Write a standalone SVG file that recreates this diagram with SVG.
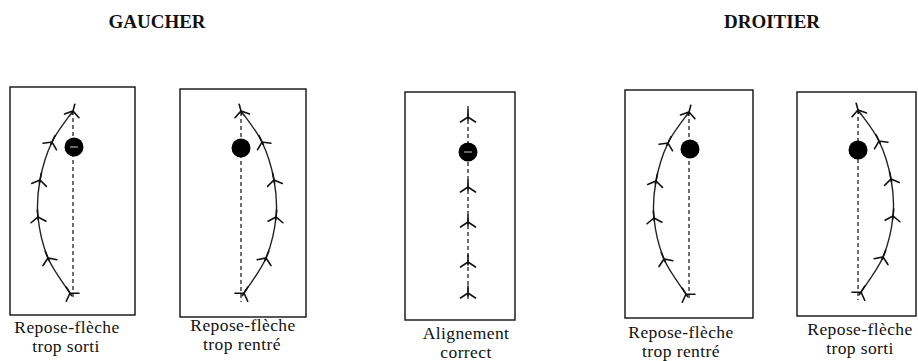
<svg xmlns="http://www.w3.org/2000/svg" xmlns:xlink="http://www.w3.org/1999/xlink" width="918" height="361" viewBox="0 0 918 361">
<style>
.box{fill:#fff;stroke:#111;stroke-width:1.4}
.axis{fill:none;stroke:#222;stroke-width:1.3;stroke-dasharray:4 3}
.bowline{fill:none;stroke:#222;stroke-width:1.4}
.fl{fill:none;stroke:#111;stroke-width:1.6;stroke-linecap:round}
.ball{fill:#000}
.nick{stroke:#fff;stroke-width:0.8}
.lbl{font-family:"Liberation Serif","Times New Roman",serif;font-size:17.5px;letter-spacing:0.4px;fill:#111;text-anchor:middle}
.ttl{font-family:"Liberation Serif","Times New Roman",serif;font-size:19px;font-weight:bold;fill:#111;text-anchor:middle}
</style>
<defs>
<path id="fl" class="fl" d="M0,-7 L0,3 M-7.5,5 L0,0 L7.5,5"/>
<g id="bow">
<path class="bowline" d="M0,0 C-3.5,5.2 -15.5,19.5 -21,31 C-26.5,42.5 -30.7,56.5 -33,69 C-35.3,81.5 -36.3,93 -35,106 C-33.7,119 -30.3,134.3 -25,147 C-19.7,159.7 -6.7,176.2 -3,182"/>
<use xlink:href="#fl" transform="translate(0,0) rotate(15)"/>
<use xlink:href="#fl" transform="translate(-21,31) rotate(26)"/>
<use xlink:href="#fl" transform="translate(-33,69) rotate(11)"/>
<use xlink:href="#fl" transform="translate(-35,106) rotate(-6)"/>
<use xlink:href="#fl" transform="translate(-25,147) rotate(-23)"/>
<use xlink:href="#fl" transform="translate(-3,182) rotate(-32)"/>
</g>
</defs>
<rect width="918" height="361" fill="#fff"/>
<text class="ttl" x="157" y="28">GAUCHER</text>
<text class="ttl" x="772" y="28">DROITIER</text>

<g id="panel1">
<rect class="box" x="10" y="87" width="125" height="228"/>
<line class="axis" x1="73" y1="111" x2="73" y2="300"/>
<use xlink:href="#bow" transform="translate(73,111)"/>
<circle class="ball" cx="74" cy="147" r="9.5"/>
<line class="nick" x1="70" y1="147" x2="78" y2="147"/>
<text class="lbl" x="67" y="333">Repose-flèche</text>
<text class="lbl" x="66" y="352">trop sorti</text>
</g>

<g id="panel2">
<rect class="box" x="180" y="89" width="126" height="228"/>
<line class="axis" x1="241" y1="112" x2="241" y2="302"/>
<use xlink:href="#bow" transform="translate(241,111) scale(-1,1)"/>
<circle class="ball" cx="241" cy="148" r="9.5"/>
<text class="lbl" x="243" y="331">Repose-flèche</text>
<text class="lbl" x="242" y="350">trop rentré</text>
</g>

<g id="panel3">
<rect class="box" x="405" y="92" width="110" height="228"/>
<line class="axis" x1="468" y1="106" x2="468" y2="300"/>
<use xlink:href="#fl" transform="translate(468,117)"/>
<use xlink:href="#fl" transform="translate(468,187)"/>
<use xlink:href="#fl" transform="translate(468,222)"/>
<use xlink:href="#fl" transform="translate(468,262)"/>
<use xlink:href="#fl" transform="translate(468,293)"/>
<circle class="ball" cx="468" cy="152" r="9.5"/>
<line class="nick" x1="464" y1="152" x2="472" y2="152"/>
<text class="lbl" x="466" y="339">Alignement</text>
<text class="lbl" x="466" y="358">correct</text>
</g>

<g id="panel4">
<rect class="box" x="625" y="90" width="128" height="228"/>
<line class="axis" x1="689" y1="112" x2="689" y2="300"/>
<use xlink:href="#bow" transform="translate(689,112)"/>
<circle class="ball" cx="690" cy="149" r="9.5"/>
<text class="lbl" x="681" y="338">Repose-flèche</text>
<text class="lbl" x="681" y="357">trop rentré</text>
</g>

<g id="panel5">
<rect class="box" x="797" y="92" width="119" height="224"/>
<line class="axis" x1="858" y1="110" x2="858" y2="300"/>
<use xlink:href="#bow" transform="translate(858,110) scale(-1,1)"/>
<circle class="ball" cx="858" cy="150" r="9.5"/>
<text class="lbl" x="860" y="335">Repose-flèche</text>
<text class="lbl" x="860" y="354">trop sorti</text>
</g>

<g id="connectors"></g>
</svg>
